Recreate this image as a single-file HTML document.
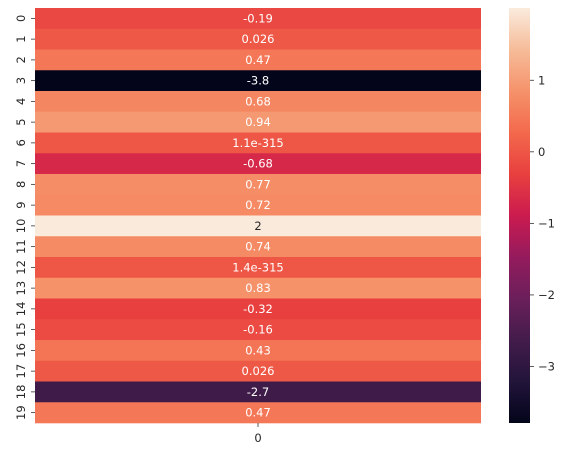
<!DOCTYPE html>
<html><head><meta charset="utf-8">
<style>body{margin:0;background:#fff;}svg{display:block;font-family:"DejaVu Sans","Liberation Sans",sans-serif;}</style>
</head><body>
<svg id="chart" width="584" height="456"></svg>
<script>
const rowLabels = ["0","1","2","3","4","5","6","7","8","9","10","11","12","13","14","15","16","17","18","19"];
const values = [-0.19,0.026,0.47,-3.8,0.68,0.94,1.1e-315,-0.68,0.77,0.72,2,0.74,1.4e-315,0.83,-0.32,-0.16,0.43,0.026,-2.7,0.47];
const annotLabels = ["-0.19","0.026","0.47","-3.8","0.68","0.94","1.1e-315","-0.68","0.77","0.72","2","0.74","1.4e-315","0.83","-0.32","-0.16","0.43","0.026","-2.7","0.47"];
const cbTicks = [1,0,-1,-2,-3];
const cbTickLabels = ["1","0","\u22121","\u22122","\u22123"];
const colLabels = ["0"];

const NS="http://www.w3.org/2000/svg";
const svg=document.getElementById('chart');
const vmin=-3.79, vmax=2.01;
const X0=35,X1=481,Y0=8,Y1=423;
const rowH=(Y1-Y0)/values.length;
const stops=[[0,"#03051a"],[0.1,"#22143a"],[0.2,"#431c4b"],[0.3,"#6b1f5b"],[0.4,"#951b5d"],[0.5,"#cb1b4f"],[0.6,"#e8403f"],[0.7,"#f3694c"],[0.8,"#f5936b"],[0.9,"#f6bc99"],[1,"#faebdd"]];
function hex(h){return [1,3,5].map(i=>parseInt(h.substr(i,2),16));}
function cmap(t){t=Math.max(0,Math.min(1,t));for(let i=1;i<stops.length;i++){if(t<=stops[i][0]){const a=stops[i-1],b=stops[i];const f=(t-a[0])/(b[0]-a[0]);const ca=hex(a[1]),cb=hex(b[1]);return "rgb("+ca.map((c,k)=>Math.round(c+(cb[k]-c)*f)).join(",")+")";}}return stops[stops.length-1][1];}
function norm(v){return (v-vmin)/(vmax-vmin);}
function el(tag,attrs){const e=document.createElementNS(NS,tag);for(const k in attrs)e.setAttribute(k,attrs[k]);svg.appendChild(e);return e;}
values.forEach((v,i)=>{
  const y=Y0+i*rowH;
  const r=el('rect',{x:X0,y:y,width:X1-X0,height:rowH+0.3,fill:cmap(norm(v))});
  
  
  const t=el('text',{x:(X0+X1)/2,y:y+rowH/2+4,'text-anchor':'middle','font-size':'11.5',fill:norm(v)>0.93?'#262626':'#ffffff'});
  t.textContent=annotLabels[i];
  
  
  const tk=el('line',{x1:X0-4,x2:X0,y1:y+rowH/2,y2:y+rowH/2,stroke:'#333','stroke-width':'0.8'});
  
  
  const cy=y+rowH/2, cx=21;
  const lb=el('text',{x:cx,y:cy,'text-anchor':'middle','dominant-baseline':'central','font-size':'11.5',fill:'#262626',transform:'rotate(-90 '+cx+' '+cy+')'});
  lb.textContent=rowLabels[i];
  
  
});
colLabels.forEach((c,j)=>{
  const cx=X0+(X1-X0)*(j+0.5)/colLabels.length;
  const tk=el('line',{x1:cx,x2:cx,y1:Y1,y2:Y1+4,stroke:'#333','stroke-width':'0.8'});
  
  
  const t=el('text',{x:cx,y:442,'text-anchor':'middle','font-size':'11.5',fill:'#262626'});
  t.textContent=c;
  
  
});
const CX0=509,CX1=530;
const defs=el('defs',{});
const g=document.createElementNS(NS,'linearGradient');
g.setAttribute('id','cbg');g.setAttribute('x1','0');g.setAttribute('y1','1');g.setAttribute('x2','0');g.setAttribute('y2','0');
stops.forEach(s=>{const st=document.createElementNS(NS,'stop');st.setAttribute('offset',s[0]);st.setAttribute('stop-color',s[1]);g.appendChild(st);});
defs.appendChild(g);
const cb=el('rect',{x:CX0,y:Y0,width:CX1-CX0,height:Y1-Y0,fill:'url(#cbg)'});


function cbY(v){return Y0+(vmax-v)/(vmax-vmin)*(Y1-Y0);}
cbTicks.forEach((v,i)=>{
  const y=cbY(v);
  const tk=el('line',{x1:CX1,x2:CX1+4,y1:y,y2:y,stroke:'#333','stroke-width':'0.8'});
  
  
  const t=el('text',{x:CX1+8,y:y+4,'font-size':'11.5',fill:'#262626'});
  t.textContent=cbTickLabels[i];
  
  
});
</script>
</body></html>
